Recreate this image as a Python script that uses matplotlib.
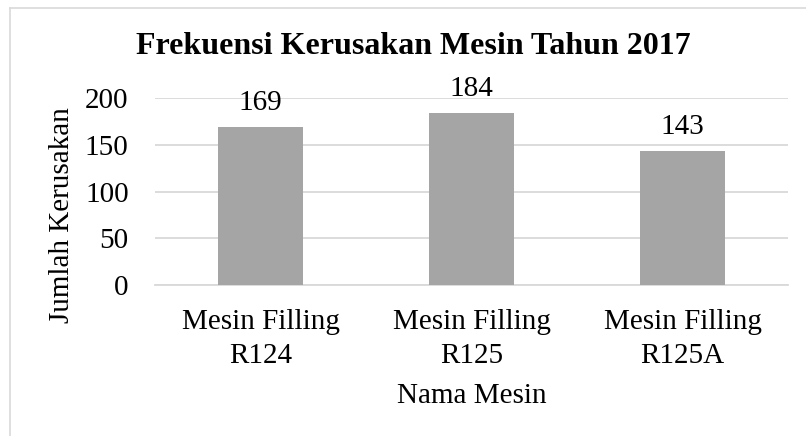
import matplotlib.pyplot as plt
from matplotlib.lines import Line2D

machines = ["Mesin Filling\nR124", "Mesin Filling\nR125", "Mesin Filling\nR125A"]
damage = [169, 184, 143]
yticks = [0, 50, 100, 150, 200]

plt.rcParams['font.family'] = ['Liberation Serif', 'DejaVu Serif']

W, H = 806, 436
fig = plt.figure(figsize=(W / 100, H / 100), dpi=100)
ax = fig.add_axes([155 / W, 1 - 285 / H, (788 - 155) / W, (285 - 98) / H])

fs = 21
x = range(len(machines))
ax.bar(x, damage, width=0.4, color='#a5a5a5', zorder=3)
for i, v in zip(x, damage):
    ax.annotate(str(v), (i, v), xytext=(0, 17.5), textcoords='offset points',
                ha='center', va='center', fontsize=fs)

ax.set_xlim(-0.5, 2.5)
ax.set_ylim(0, 200)
ax.set_yticks(yticks)
ax.set_xticks(list(x))
ax.set_xticklabels(machines, fontsize=fs, linespacing=1.38)
ax.tick_params(axis='y', labelsize=fs, length=0, pad=19)
ax.tick_params(axis='x', length=0, pad=17.5)
ax.grid(axis='y', color='#d9d9d9', linewidth=1.3, zorder=0)
for s in ['top', 'right', 'left']:
    ax.spines[s].set_visible(False)
ax.spines['bottom'].set_color('#d9d9d9')
ax.spines['bottom'].set_linewidth(1.3)

ax.set_xlabel("Nama Mesin", fontsize=fs, labelpad=10)
ax.set_ylabel("Jumlah Kerusakan", fontsize=fs, va='center')
ax.yaxis.set_label_coords((62 - 155) / 633, (285 - 215) / 187)
fig.text(413 / W, 1 - 47 / H, "Frekuensi Kerusakan Mesin Tahun 2017",
         ha='center', va='center', fontsize=23, fontweight='bold')

# chart frame (only top and left edges are visible in the crop)
fig.add_artist(Line2D([10 / W, 1], [1 - 8 / H, 1 - 8 / H], color='#d9d9d9', lw=1.2))
fig.add_artist(Line2D([10 / W, 10 / W], [0, 1 - 8 / H], color='#d9d9d9', lw=1.2))

fig.savefig("out.png", dpi=100)
